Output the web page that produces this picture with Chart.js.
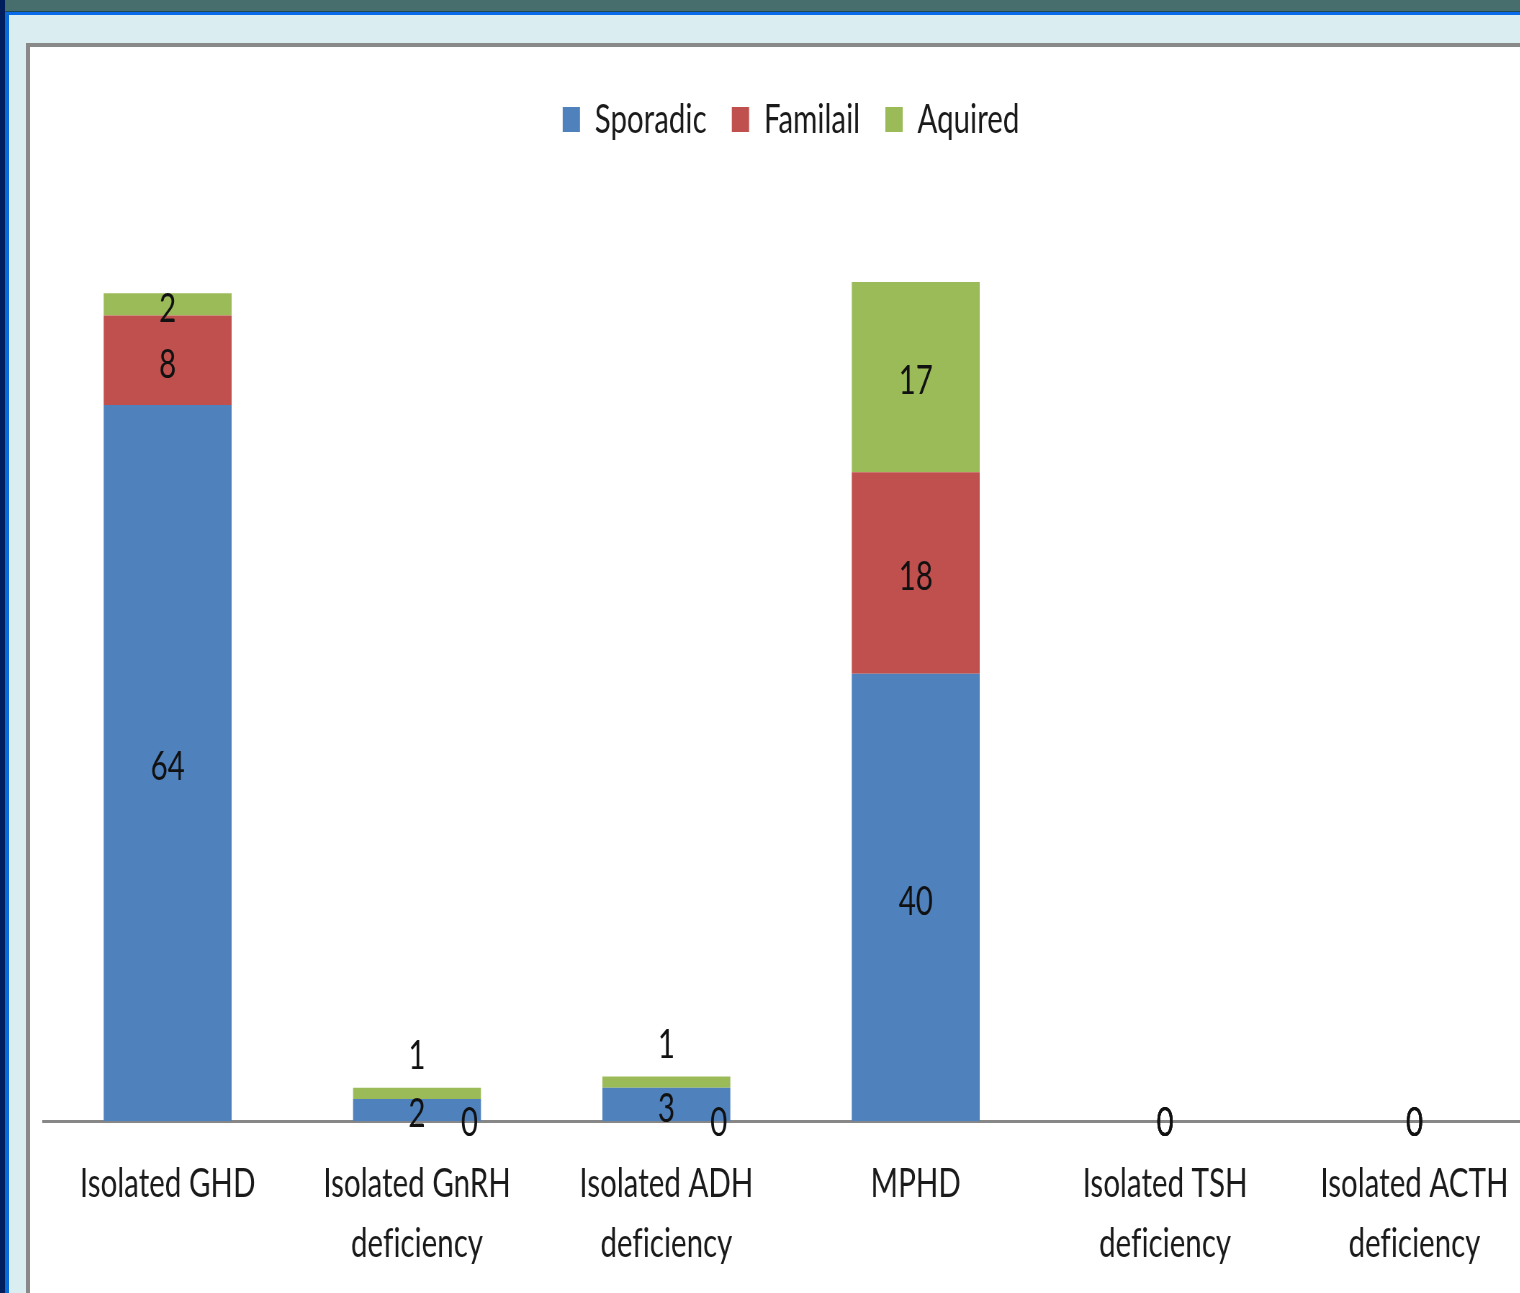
<!DOCTYPE html>
<html>
<head>
<meta charset="utf-8">
<title>Hypopituitarism aetiology by deficiency type</title>
<script src="https://cdn.jsdelivr.net/npm/chart.js@4.4.1/dist/chart.umd.min.js"></script>
<style>
  html, body { margin: 0; padding: 0; }
  body { width: 1520px; height: 1293px; overflow: hidden; position: relative; background: #DAEDF0; }
  #topbar  { position: absolute; left: 0; top: 0;    width: 1520px; height: 11px; background: #476D6D; }
  #topline { position: absolute; left: 0; top: 11px; width: 1520px; height: 1px;  background: #1F4A55; }
  #topblue { position: absolute; left: 0; top: 12px; width: 1520px; height: 3px;  background: #0A6BEA; }
  #leftnavy { position: absolute; left: 0; top: 0; width: 5px; height: 1293px; background: #001E5C; }
  #leftblue { position: absolute; left: 5px; top: 12px; width: 4px; height: 1281px; background: #0A6BD6; }
  #panel { position: absolute; left: 26px; top: 43px; width: 1600px; height: 1400px; background: #fff;
           border-left: 4px solid #898989; border-top: 4px solid #898989; }
  /* chart is laid out wide and narrowed horizontally, like the condensed slide text */
  #wrap { position: absolute; left: 30px; top: 47px; width: 2111px; height: 1246px;
          transform: scaleX(0.72); transform-origin: 0 0; }
</style>
</head>
<body>
<div id="topbar"></div>
<div id="topline"></div>
<div id="topblue"></div>
<div id="leftnavy"></div>
<div id="leftblue"></div>
<div id="panel"></div>
<div id="wrap"><canvas id="chart"></canvas></div>

<script>
// Categories (multi-line axis labels)
const categories = [
  ['Isolated GHD'],
  ['Isolated GnRH', 'deficiency'],
  ['Isolated ADH', 'deficiency'],
  ['MPHD'],
  ['Isolated TSH', 'deficiency'],
  ['Isolated ACTH', 'deficiency']
];

// Series names as shown in the legend
const seriesNames = ['Sporadic', 'Familail', 'Aquired'];

// Case counts per category
const sporadic = [64, 2, 3, 40, 0, 0];
const familial = [8, 0, 0, 18, 0, 0];
const acquired = [2, 1, 1, 17, 0, 0];

const seriesColors = ['#4F81BD', '#C0504D', '#9BBB59'];
const FONT = 'Lato';

// Plain glyphs (no "fi" ligature) for all canvas text
const plainText = {
  id: 'plainText',
  beforeDraw(chart) {
    if ('textRendering' in chart.ctx) chart.ctx.textRendering = 'optimizeSpeed';
  }
};

// Extra room under the legend before the plot area begins
const legendGap = {
  id: 'legendGap',
  afterInit(chart) {
    const fit = chart.legend.fit;
    chart.legend.fit = function () {
      fit.call(this);
      this.height += 76;
    };
  }
};

// Value labels on each stacked segment
const valueLabels = {
  id: 'valueLabels',
  afterDatasetsDraw(chart) {
    const ctx = chart.ctx;
    const y0 = chart.scales.y.getPixelForValue(0);
    ctx.save();
    ctx.font = '41px ' + FONT;
    ctx.fillStyle = '#111111';
    ctx.textAlign = 'center';
    ctx.textBaseline = 'middle';
    chart.data.datasets.forEach((ds, di) => {
      const meta = chart.getDatasetMeta(di);
      meta.data.forEach((bar, i) => {
        const v = ds.data[i];
        const total = chart.data.datasets.reduce((s, d) => s + d.data[i], 0);
        const h = Math.abs(bar.base - bar.y);
        let x = bar.x;
        let y = (bar.y + bar.base) / 2 + 4;
        if (v === 0) {
          y = y0 + 2;
          if (total > 0) x = bar.x + bar.width * 0.41;
        } else if (h < 15) {
          y = bar.y - 32;
        }
        ctx.fillText(String(v), x, y);
      });
    });
    ctx.restore();
  }
};

new Chart(document.getElementById('chart'), {
  type: 'bar',
  data: {
    labels: categories,
    datasets: [
      { label: seriesNames[0], data: sporadic, backgroundColor: seriesColors[0] },
      { label: seriesNames[1], data: familial, backgroundColor: seriesColors[1] },
      { label: seriesNames[2], data: acquired, backgroundColor: seriesColors[2] }
    ]
  },
  options: {
    responsive: true,
    maintainAspectRatio: false,
    animation: false,
    layout: { padding: { left: 18, right: 15, top: 17, bottom: -14 } },
    datasets: { bar: { barPercentage: 0.513, categoryPercentage: 1 } },
    scales: {
      x: {
        stacked: true,
        grid: { display: false, drawTicks: false },
        border: { display: true, color: '#878787', width: 3 },
        ticks: {
          font: { family: FONT, size: 41, lineHeight: 1.46 },
          color: '#1a1a1a',
          padding: 33,
          autoSkip: false,
          maxRotation: 0
        }
      },
      y: { stacked: true, display: false, min: 0, max: 80 }
    },
    plugins: {
      legend: {
        position: 'top',
        labels: {
          font: { family: FONT, size: 41 },
          color: '#1a1a1a',
          boxWidth: 24,
          boxHeight: 25,
          padding: 35
        }
      },
      tooltip: { enabled: false }
    }
  },
  plugins: [plainText, legendGap, valueLabels]
});
</script>
</body>
</html>
